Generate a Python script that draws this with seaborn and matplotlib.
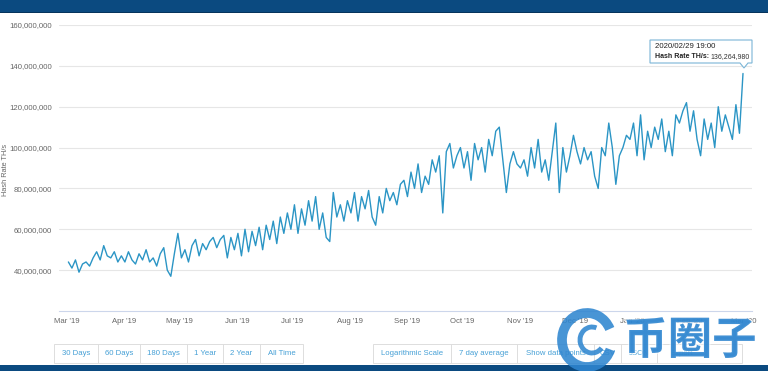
import matplotlib
matplotlib.use('Agg')
import matplotlib.pyplot as plt
import matplotlib.patheffects as pe
import seaborn as sns
import pandas as pd
import numpy as np
from matplotlib.patches import Rectangle, Polygon, Arc
import matplotlib.ticker as mticker

# ---- data (hash rate, millions TH/s, ~2-day steps) ----
mar19 = [44, 41, 45, 39, 43, 44, 42, 46, 49, 45, 52, 47, 46, 49, 44]
apr19 = [47, 44, 49, 45, 43, 48, 45, 50, 44, 46, 42, 48, 51, 40, 37, 48]
may19 = [58, 46, 50, 44, 52, 55, 47, 53, 50, 54, 56, 51, 55, 57, 46, 56]
jun19 = [50, 58, 47, 60, 49, 59, 52, 61, 50, 62, 55, 64, 53, 66, 58, 68]
jul19 = [60, 72, 58, 70, 62, 74, 64, 76, 60, 68, 56, 54, 78, 66, 72, 64]
aug19 = [74, 68, 78, 64, 76, 70, 79, 66, 62, 76, 68, 80, 74, 78, 72, 82]
sep19 = [84, 76, 88, 80, 92, 78, 86, 82, 94, 88, 96, 68, 98, 102, 90, 96]
oct19 = [100, 90, 98, 84, 102, 94, 100, 88, 104, 96, 108, 110, 94, 78, 92, 98]
nov19 = [92, 90, 94, 86, 100, 90, 104, 88, 94, 84, 98, 112, 78, 100, 88, 96]
dec19 = [106, 98, 92, 100, 94, 98, 86, 80, 100, 96, 112, 100, 82, 96, 100, 106]
jan20 = [104, 112, 96, 116, 94, 108, 100, 110, 104, 114, 98, 108, 96, 116, 112, 118]
feb20 = [122, 108, 118, 104, 96, 114, 104, 112, 100, 120, 108, 116, 110, 104, 121, 107, 136.26498]

month_labels = ["Mar '19", "Apr '19", "May '19", "Jun '19", "Jul '19", "Aug '19",
                "Sep '19", "Oct '19", "Nov '19", "Dec '19", "Jan '20", "Feb '20", "Mar '20"]
month_starts = ["2019-03-01", "2019-04-01", "2019-05-01", "2019-06-01", "2019-07-01",
                "2019-08-01", "2019-09-01", "2019-10-01", "2019-11-01", "2019-12-01",
                "2020-01-01", "2020-02-01", "2020-03-01"]
y_ticks = [40e6, 60e6, 80e6, 100e6, 120e6, 140e6, 160e6]
buttons_left = ["30 Days", "60 Days", "180 Days", "1 Year", "2 Year", "All Time"]
buttons_right = ["Logarithmic Scale", "7 day average", "Show data points", "CSV", "JSON", "Export"]
tooltip_date = "2020/02/29 19:00"
tooltip_label = "Hash Rate TH/s:"
tooltip_value = "136,264,980"

values = mar19 + apr19 + may19 + jun19 + jul19 + aug19 + sep19 + oct19 + nov19 + dec19 + jan20 + feb20
dates = pd.date_range("2019-03-01 19:00", "2020-02-29 19:00", periods=len(values))
df = pd.DataFrame({"date": dates, "hash": np.array(values) * 1e6})

# ---- figure ----
sns.set_theme(style="white")
plt.rcParams["font.family"] = ["Liberation Sans", "DejaVu Sans"]
W, H = 768, 371
fig = plt.figure(figsize=(W / 100, H / 100), dpi=100)
fig.patch.set_facecolor("white")

def fx(x):
    return x / W

def fy(y):
    return 1 - y / H

ax = fig.add_axes([fx(59), fy(311), (752 - 59) / W, (311 - 25) / H])
sns.lineplot(data=df, x="date", y="hash", ax=ax, color="#2b95c5", linewidth=1.0)
ax.set_xlim(pd.Timestamp("2019-02-24 17:00"), pd.Timestamp("2020-03-05 16:00"))
ax.set_ylim(20e6, 160e6)

ax.set_yticks(y_ticks)
ax.yaxis.set_major_formatter(mticker.FuncFormatter(lambda v, p: f"{v:,.0f}"))
ax.set_xticks(pd.to_datetime(month_starts))
ax.set_xticklabels(month_labels)
ax.tick_params(axis="both", length=0, labelsize=5.6, colors="#666666")
ax.tick_params(axis="y", pad=5)
ax.tick_params(axis="x", pad=5)
ax.grid(axis="y", color="#e6e6e6", linewidth=0.8)
ax.grid(axis="x", visible=False)
for s in ["top", "left", "right"]:
    ax.spines[s].set_visible(False)
ax.spines["bottom"].set_color("#ccd6eb")
ax.spines["bottom"].set_linewidth(0.8)
ax.set_xlabel("")
ax.set_ylabel("")
fig.text(fx(6), fy(170), "Hash Rate TH/s", rotation=90, ha="center", va="center",
         fontsize=5.3, color="#666666")

# ---- top / bottom bands ----
fig.patches.append(Rectangle((0, fy(12)), 1, 12 / H, transform=fig.transFigure,
                             facecolor="#0b4a80", edgecolor="none", zorder=0))
fig.patches.append(Rectangle((0, fy(13)), 1, 1.2 / H, transform=fig.transFigure,
                             facecolor="#06345c", edgecolor="none", zorder=0))
fig.patches.append(Rectangle((0, 0), 1, 6 / H, transform=fig.transFigure,
                             facecolor="#0b4a80", edgecolor="none", zorder=0))

# ---- buttons ----
def button_row(labels, edges, y0=344, y1=363):
    fig.patches.append(Rectangle((fx(edges[0]), fy(y1)), (edges[-1] - edges[0]) / W, (y1 - y0) / H,
                                 transform=fig.transFigure, facecolor="white",
                                 edgecolor="#dddddd", linewidth=0.7))
    for i, lab in enumerate(labels):
        if i > 0:
            fig.lines.append(plt.Line2D([fx(edges[i])] * 2, [fy(y0), fy(y1)],
                                        transform=fig.transFigure, color="#dddddd", linewidth=0.7))
        fig.text(fx((edges[i] + edges[i + 1]) / 2), fy((y0 + y1) / 2), lab,
                 ha="center", va="center", fontsize=5.6, color="#46a0d6")

button_row(buttons_left, [54, 98, 140, 187, 223, 260, 303])
button_row(buttons_right, [373, 451, 517, 594, 621, 657, 706, 742])

# ---- tooltip ----
bx0, bx1, by0, by1 = 650, 752, 40, 63
fig.patches.append(Polygon([(fx(bx0), fy(by0)), (fx(bx1), fy(by0)), (fx(bx1), fy(by1)),
                            (fx(748), fy(by1)), (fx(744), fy(68)), (fx(740), fy(by1)),
                            (fx(bx0), fy(by1))], closed=True, transform=fig.transFigure,
                           facecolor=(1, 1, 1, 0.93), edgecolor="#7ab5d6", linewidth=0.8, zorder=5))
fig.text(fx(655), fy(46.5), tooltip_date, fontsize=5.6, color="#222222", va="center", zorder=6)
lab = fig.text(fx(655), fy(56.5), tooltip_label, fontsize=5.0, color="#222222",
               va="center", fontweight="bold", zorder=6)
fig.canvas.draw()
bb = lab.get_window_extent(renderer=fig.canvas.get_renderer())
x_after = bb.x1 / W + 1.5 / W
fig.text(x_after, fy(56.5), tooltip_value, fontsize=5.0, color="#333333", va="center",
         ha="left", zorder=6)

# ---- watermark (semi-transparent overlay, as in the reference) ----
wm_color = "#2f86d0"
fig.patches.append(Arc((fx(587), fy(340)), 50 / W, 54 / H, theta1=45, theta2=320,
                       transform=fig.transFigure, color=wm_color, alpha=0.88,
                       linewidth=7, zorder=7))
fig.patches.append(Arc((fx(592), fy(340)), 24 / W, 26 / H, theta1=80, theta2=300,
                       transform=fig.transFigure, color=wm_color, alpha=0.88,
                       linewidth=3.5, zorder=7))
fig.text(fx(690), fy(341), "币圈子", fontsize=32, fontweight="bold", color=wm_color,
         alpha=0.88, family=["Noto Sans CJK SC", "DejaVu Sans"], ha="center", va="center",
         zorder=7, path_effects=[pe.withStroke(linewidth=2, foreground="white", alpha=0.6)])

fig.savefig("out.png", dpi=100)
